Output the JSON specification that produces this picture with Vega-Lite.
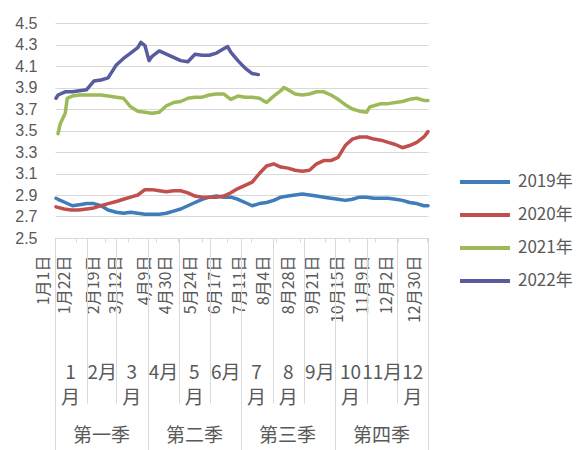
{
  "$schema": "https://vega.github.io/schema/vega-lite/v6.json",
  "width": 373,
  "height": 215,
  "autosize": {"type": "none"},
  "padding": {"left": 55, "top": 23, "right": 155, "bottom": 212},
  "background": "white",
  "config": {"font": "Noto Sans CJK SC", "view": {"stroke": null}},
  "data": {"values": [
    {"date": "2019-01-02", "series": "2019年", "rate": 2.87},
    {"date": "2019-01-04", "series": "2019年", "rate": 2.86},
    {"date": "2019-01-11", "series": "2019年", "rate": 2.83},
    {"date": "2019-01-18", "series": "2019年", "rate": 2.80},
    {"date": "2019-01-25", "series": "2019年", "rate": 2.81},
    {"date": "2019-02-01", "series": "2019年", "rate": 2.82},
    {"date": "2019-02-08", "series": "2019年", "rate": 2.82},
    {"date": "2019-02-15", "series": "2019年", "rate": 2.80},
    {"date": "2019-02-22", "series": "2019年", "rate": 2.76},
    {"date": "2019-03-01", "series": "2019年", "rate": 2.74},
    {"date": "2019-03-08", "series": "2019年", "rate": 2.73},
    {"date": "2019-03-15", "series": "2019年", "rate": 2.74},
    {"date": "2019-03-22", "series": "2019年", "rate": 2.73},
    {"date": "2019-03-29", "series": "2019年", "rate": 2.72},
    {"date": "2019-04-05", "series": "2019年", "rate": 2.72},
    {"date": "2019-04-12", "series": "2019年", "rate": 2.72},
    {"date": "2019-04-19", "series": "2019年", "rate": 2.73},
    {"date": "2019-04-26", "series": "2019年", "rate": 2.75},
    {"date": "2019-05-03", "series": "2019年", "rate": 2.77},
    {"date": "2019-05-10", "series": "2019年", "rate": 2.80},
    {"date": "2019-05-17", "series": "2019年", "rate": 2.83},
    {"date": "2019-05-24", "series": "2019年", "rate": 2.86},
    {"date": "2019-05-31", "series": "2019年", "rate": 2.88},
    {"date": "2019-06-07", "series": "2019年", "rate": 2.89},
    {"date": "2019-06-14", "series": "2019年", "rate": 2.88},
    {"date": "2019-06-21", "series": "2019年", "rate": 2.88},
    {"date": "2019-06-28", "series": "2019年", "rate": 2.86},
    {"date": "2019-07-05", "series": "2019年", "rate": 2.83},
    {"date": "2019-07-12", "series": "2019年", "rate": 2.80},
    {"date": "2019-07-19", "series": "2019年", "rate": 2.82},
    {"date": "2019-07-26", "series": "2019年", "rate": 2.83},
    {"date": "2019-08-02", "series": "2019年", "rate": 2.85},
    {"date": "2019-08-09", "series": "2019年", "rate": 2.88},
    {"date": "2019-08-16", "series": "2019年", "rate": 2.89},
    {"date": "2019-08-23", "series": "2019年", "rate": 2.90},
    {"date": "2019-08-30", "series": "2019年", "rate": 2.91},
    {"date": "2019-09-06", "series": "2019年", "rate": 2.90},
    {"date": "2019-09-13", "series": "2019年", "rate": 2.89},
    {"date": "2019-09-20", "series": "2019年", "rate": 2.88},
    {"date": "2019-09-27", "series": "2019年", "rate": 2.87},
    {"date": "2019-10-04", "series": "2019年", "rate": 2.86},
    {"date": "2019-10-11", "series": "2019年", "rate": 2.85},
    {"date": "2019-10-18", "series": "2019年", "rate": 2.86},
    {"date": "2019-10-25", "series": "2019年", "rate": 2.88},
    {"date": "2019-11-01", "series": "2019年", "rate": 2.88},
    {"date": "2019-11-08", "series": "2019年", "rate": 2.87},
    {"date": "2019-11-15", "series": "2019年", "rate": 2.87},
    {"date": "2019-11-22", "series": "2019年", "rate": 2.87},
    {"date": "2019-11-29", "series": "2019年", "rate": 2.86},
    {"date": "2019-12-06", "series": "2019年", "rate": 2.85},
    {"date": "2019-12-13", "series": "2019年", "rate": 2.83},
    {"date": "2019-12-20", "series": "2019年", "rate": 2.82},
    {"date": "2019-12-27", "series": "2019年", "rate": 2.80},
    {"date": "2019-12-31", "series": "2019年", "rate": 2.80},

    {"date": "2020-01-02", "series": "2020年", "rate": 2.79},
    {"date": "2020-01-10", "series": "2020年", "rate": 2.77},
    {"date": "2020-01-17", "series": "2020年", "rate": 2.76},
    {"date": "2020-01-24", "series": "2020年", "rate": 2.76},
    {"date": "2020-02-01", "series": "2020年", "rate": 2.77},
    {"date": "2020-02-08", "series": "2020年", "rate": 2.78},
    {"date": "2020-02-15", "series": "2020年", "rate": 2.80},
    {"date": "2020-02-22", "series": "2020年", "rate": 2.82},
    {"date": "2020-03-01", "series": "2020年", "rate": 2.84},
    {"date": "2020-03-08", "series": "2020年", "rate": 2.86},
    {"date": "2020-03-15", "series": "2020年", "rate": 2.88},
    {"date": "2020-03-22", "series": "2020年", "rate": 2.90},
    {"date": "2020-03-29", "series": "2020年", "rate": 2.95},
    {"date": "2020-04-05", "series": "2020年", "rate": 2.95},
    {"date": "2020-04-12", "series": "2020年", "rate": 2.94},
    {"date": "2020-04-19", "series": "2020年", "rate": 2.93},
    {"date": "2020-04-26", "series": "2020年", "rate": 2.94},
    {"date": "2020-05-03", "series": "2020年", "rate": 2.94},
    {"date": "2020-05-10", "series": "2020年", "rate": 2.92},
    {"date": "2020-05-17", "series": "2020年", "rate": 2.89},
    {"date": "2020-05-24", "series": "2020年", "rate": 2.88},
    {"date": "2020-05-31", "series": "2020年", "rate": 2.88},
    {"date": "2020-06-07", "series": "2020年", "rate": 2.88},
    {"date": "2020-06-14", "series": "2020年", "rate": 2.89},
    {"date": "2020-06-21", "series": "2020年", "rate": 2.92},
    {"date": "2020-06-28", "series": "2020年", "rate": 2.96},
    {"date": "2020-07-05", "series": "2020年", "rate": 2.99},
    {"date": "2020-07-12", "series": "2020年", "rate": 3.02},
    {"date": "2020-07-19", "series": "2020年", "rate": 3.10},
    {"date": "2020-07-26", "series": "2020年", "rate": 3.17},
    {"date": "2020-08-02", "series": "2020年", "rate": 3.19},
    {"date": "2020-08-09", "series": "2020年", "rate": 3.16},
    {"date": "2020-08-16", "series": "2020年", "rate": 3.15},
    {"date": "2020-08-23", "series": "2020年", "rate": 3.13},
    {"date": "2020-08-30", "series": "2020年", "rate": 3.12},
    {"date": "2020-09-06", "series": "2020年", "rate": 3.13},
    {"date": "2020-09-13", "series": "2020年", "rate": 3.19},
    {"date": "2020-09-20", "series": "2020年", "rate": 3.22},
    {"date": "2020-09-27", "series": "2020年", "rate": 3.22},
    {"date": "2020-10-04", "series": "2020年", "rate": 3.25},
    {"date": "2020-10-11", "series": "2020年", "rate": 3.36},
    {"date": "2020-10-18", "series": "2020年", "rate": 3.42},
    {"date": "2020-10-25", "series": "2020年", "rate": 3.44},
    {"date": "2020-11-01", "series": "2020年", "rate": 3.44},
    {"date": "2020-11-08", "series": "2020年", "rate": 3.42},
    {"date": "2020-11-15", "series": "2020年", "rate": 3.41},
    {"date": "2020-11-22", "series": "2020年", "rate": 3.39},
    {"date": "2020-11-29", "series": "2020年", "rate": 3.37},
    {"date": "2020-12-06", "series": "2020年", "rate": 3.34},
    {"date": "2020-12-13", "series": "2020年", "rate": 3.36},
    {"date": "2020-12-20", "series": "2020年", "rate": 3.39},
    {"date": "2020-12-27", "series": "2020年", "rate": 3.44},
    {"date": "2020-12-31", "series": "2020年", "rate": 3.49},

    {"date": "2021-01-04", "series": "2021年", "rate": 3.47},
    {"date": "2021-01-06", "series": "2021年", "rate": 3.56},
    {"date": "2021-01-08", "series": "2021年", "rate": 3.60},
    {"date": "2021-01-11", "series": "2021年", "rate": 3.66},
    {"date": "2021-01-13", "series": "2021年", "rate": 3.80},
    {"date": "2021-01-18", "series": "2021年", "rate": 3.82},
    {"date": "2021-01-25", "series": "2021年", "rate": 3.83},
    {"date": "2021-02-01", "series": "2021年", "rate": 3.83},
    {"date": "2021-02-08", "series": "2021年", "rate": 3.83},
    {"date": "2021-02-15", "series": "2021年", "rate": 3.83},
    {"date": "2021-02-22", "series": "2021年", "rate": 3.82},
    {"date": "2021-03-01", "series": "2021年", "rate": 3.81},
    {"date": "2021-03-08", "series": "2021年", "rate": 3.80},
    {"date": "2021-03-15", "series": "2021年", "rate": 3.72},
    {"date": "2021-03-22", "series": "2021年", "rate": 3.68},
    {"date": "2021-03-29", "series": "2021年", "rate": 3.67},
    {"date": "2021-04-05", "series": "2021年", "rate": 3.66},
    {"date": "2021-04-12", "series": "2021年", "rate": 3.67},
    {"date": "2021-04-19", "series": "2021年", "rate": 3.73},
    {"date": "2021-04-26", "series": "2021年", "rate": 3.76},
    {"date": "2021-05-03", "series": "2021年", "rate": 3.77},
    {"date": "2021-05-10", "series": "2021年", "rate": 3.80},
    {"date": "2021-05-17", "series": "2021年", "rate": 3.81},
    {"date": "2021-05-24", "series": "2021年", "rate": 3.81},
    {"date": "2021-05-31", "series": "2021年", "rate": 3.83},
    {"date": "2021-06-07", "series": "2021年", "rate": 3.84},
    {"date": "2021-06-14", "series": "2021年", "rate": 3.84},
    {"date": "2021-06-21", "series": "2021年", "rate": 3.79},
    {"date": "2021-06-28", "series": "2021年", "rate": 3.82},
    {"date": "2021-07-05", "series": "2021年", "rate": 3.81},
    {"date": "2021-07-12", "series": "2021年", "rate": 3.81},
    {"date": "2021-07-19", "series": "2021年", "rate": 3.80},
    {"date": "2021-07-26", "series": "2021年", "rate": 3.76},
    {"date": "2021-08-02", "series": "2021年", "rate": 3.82},
    {"date": "2021-08-09", "series": "2021年", "rate": 3.87},
    {"date": "2021-08-12", "series": "2021年", "rate": 3.90},
    {"date": "2021-08-16", "series": "2021年", "rate": 3.88},
    {"date": "2021-08-23", "series": "2021年", "rate": 3.84},
    {"date": "2021-08-30", "series": "2021年", "rate": 3.83},
    {"date": "2021-09-06", "series": "2021年", "rate": 3.84},
    {"date": "2021-09-13", "series": "2021年", "rate": 3.86},
    {"date": "2021-09-20", "series": "2021年", "rate": 3.86},
    {"date": "2021-09-27", "series": "2021年", "rate": 3.83},
    {"date": "2021-10-04", "series": "2021年", "rate": 3.79},
    {"date": "2021-10-11", "series": "2021年", "rate": 3.74},
    {"date": "2021-10-18", "series": "2021年", "rate": 3.70},
    {"date": "2021-10-25", "series": "2021年", "rate": 3.68},
    {"date": "2021-11-01", "series": "2021年", "rate": 3.67},
    {"date": "2021-11-04", "series": "2021年", "rate": 3.72},
    {"date": "2021-11-08", "series": "2021年", "rate": 3.73},
    {"date": "2021-11-15", "series": "2021年", "rate": 3.75},
    {"date": "2021-11-22", "series": "2021年", "rate": 3.75},
    {"date": "2021-11-29", "series": "2021年", "rate": 3.76},
    {"date": "2021-12-06", "series": "2021年", "rate": 3.77},
    {"date": "2021-12-13", "series": "2021年", "rate": 3.79},
    {"date": "2021-12-20", "series": "2021年", "rate": 3.80},
    {"date": "2021-12-27", "series": "2021年", "rate": 3.78},
    {"date": "2021-12-31", "series": "2021年", "rate": 3.78},

    {"date": "2022-01-02", "series": "2022年", "rate": 3.80},
    {"date": "2022-01-04", "series": "2022年", "rate": 3.83},
    {"date": "2022-01-11", "series": "2022年", "rate": 3.86},
    {"date": "2022-01-18", "series": "2022年", "rate": 3.86},
    {"date": "2022-01-25", "series": "2022年", "rate": 3.87},
    {"date": "2022-02-01", "series": "2022年", "rate": 3.88},
    {"date": "2022-02-08", "series": "2022年", "rate": 3.96},
    {"date": "2022-02-15", "series": "2022年", "rate": 3.97},
    {"date": "2022-02-22", "series": "2022年", "rate": 3.99},
    {"date": "2022-03-01", "series": "2022年", "rate": 4.11},
    {"date": "2022-03-08", "series": "2022年", "rate": 4.17},
    {"date": "2022-03-15", "series": "2022年", "rate": 4.22},
    {"date": "2022-03-22", "series": "2022年", "rate": 4.27},
    {"date": "2022-03-25", "series": "2022年", "rate": 4.32},
    {"date": "2022-03-29", "series": "2022年", "rate": 4.29},
    {"date": "2022-04-02", "series": "2022年", "rate": 4.15},
    {"date": "2022-04-05", "series": "2022年", "rate": 4.19},
    {"date": "2022-04-12", "series": "2022年", "rate": 4.24},
    {"date": "2022-04-19", "series": "2022年", "rate": 4.21},
    {"date": "2022-04-26", "series": "2022年", "rate": 4.18},
    {"date": "2022-05-03", "series": "2022年", "rate": 4.15},
    {"date": "2022-05-10", "series": "2022年", "rate": 4.14},
    {"date": "2022-05-17", "series": "2022年", "rate": 4.21},
    {"date": "2022-05-24", "series": "2022年", "rate": 4.20},
    {"date": "2022-05-31", "series": "2022年", "rate": 4.20},
    {"date": "2022-06-07", "series": "2022年", "rate": 4.22},
    {"date": "2022-06-14", "series": "2022年", "rate": 4.26},
    {"date": "2022-06-18", "series": "2022年", "rate": 4.28},
    {"date": "2022-06-21", "series": "2022年", "rate": 4.23},
    {"date": "2022-06-28", "series": "2022年", "rate": 4.15},
    {"date": "2022-07-05", "series": "2022年", "rate": 4.08},
    {"date": "2022-07-12", "series": "2022年", "rate": 4.03},
    {"date": "2022-07-18", "series": "2022年", "rate": 4.02}
  ]},
  "encoding": {
    "y": {
      "field": "rate", "type": "quantitative",
      "scale": {"domain": [2.5, 4.5], "zero": false, "nice": false},
      "axis": {
        "title": null,
        "values": [2.5, 2.7, 2.9, 3.1, 3.3, 3.5, 3.7, 3.9, 4.1, 4.3, 4.5],
        "format": ".1f",
        "ticks": false, "domain": false,
        "gridColor": "#d9d9d9", "gridWidth": 1,
        "labelFont": "Liberation Sans",
        "labelFontSize": 16, "labelColor": "#595959", "labelPadding": 18
      }
    },
    "color": {
      "field": "series", "type": "nominal",
      "scale": {"domain": ["2019年", "2020年", "2021年", "2022年"], "range": ["#3f7cb9", "#c0504d", "#9bbb59", "#585c9e"]},
      "legend": {
        "title": null, "orient": "none", "legendX": 403, "legendY": 149,
        "symbolType": "stroke", "symbolSize": 2500, "symbolStrokeWidth": 4,
        "clipHeight": 20, "rowPadding": 13,
        "labelFontSize": 17, "labelColor": "#595959", "labelOffset": 6
      }
    }
  },
  "layer": [
    {
      "transform": [{"filter": "datum.series == '2019年'"}],
      "mark": {"type": "line", "strokeWidth": 3.5, "strokeJoin": "round", "strokeCap": "round"},
      "encoding": {
        "x": {
          "field": "date", "timeUnit": "utcmonthdate", "type": "temporal",
          "scale": {"domain": [{"year": 2012, "month": 1, "date": 1, "utc": true}, {"year": 2012, "month": 12, "date": 31, "utc": true}], "nice": false},
          "axis": {
            "title": null, "orient": "bottom",
            "values": [
              {"year": 2012, "month": 1, "date": 1, "utc": true},
              {"year": 2012, "month": 1, "date": 22, "utc": true},
              {"year": 2012, "month": 2, "date": 19, "utc": true},
              {"year": 2012, "month": 3, "date": 12, "utc": true},
              {"year": 2012, "month": 4, "date": 9, "utc": true},
              {"year": 2012, "month": 4, "date": 30, "utc": true},
              {"year": 2012, "month": 5, "date": 24, "utc": true},
              {"year": 2012, "month": 6, "date": 17, "utc": true},
              {"year": 2012, "month": 7, "date": 11, "utc": true},
              {"year": 2012, "month": 8, "date": 4, "utc": true},
              {"year": 2012, "month": 8, "date": 28, "utc": true},
              {"year": 2012, "month": 9, "date": 21, "utc": true},
              {"year": 2012, "month": 10, "date": 15, "utc": true},
              {"year": 2012, "month": 11, "date": 9, "utc": true},
              {"year": 2012, "month": 12, "date": 2, "utc": true},
              {"year": 2012, "month": 12, "date": 30, "utc": true}
            ],
            "labelExpr": "utcFormat(datum.value, '%-m月%-d日')",
            "labelAngle": 270, "labelAlign": "right", "labelBaseline": "middle",
            "labelFontSize": 16, "labelColor": "#595959",
            "labelPadding": 13, "labelOffset": -12,
            "labelOverlap": false, "labelFlush": false, "labelBound": false,
            "ticks": true, "tickSize": 4, "tickColor": "#d9d9d9",
            "domain": true, "domainColor": "#d9d9d9", "grid": false
          }
        }
      }
    },
    {
      "transform": [{"filter": "datum.series == '2020年'"}],
      "mark": {"type": "line", "strokeWidth": 3.5, "strokeJoin": "round", "strokeCap": "round"},
      "encoding": {
        "x": {
          "field": "date", "timeUnit": "utcmonthdate", "type": "temporal",
          "axis": {
            "title": null, "orient": "bottom",
            "values": [
              {"year": 2012, "month": 1, "date": 1, "utc": true},
              {"year": 2012, "month": 2, "date": 1, "utc": true},
              {"year": 2012, "month": 3, "date": 1, "utc": true},
              {"year": 2012, "month": 4, "date": 1, "utc": true},
              {"year": 2012, "month": 5, "date": 1, "utc": true},
              {"year": 2012, "month": 6, "date": 1, "utc": true},
              {"year": 2012, "month": 7, "date": 1, "utc": true},
              {"year": 2012, "month": 8, "date": 1, "utc": true},
              {"year": 2012, "month": 9, "date": 1, "utc": true},
              {"year": 2012, "month": 10, "date": 1, "utc": true},
              {"year": 2012, "month": 11, "date": 1, "utc": true},
              {"year": 2012, "month": 12, "date": 1, "utc": true}
            ],
            "labelExpr": "[['1','月'],['2月'],['3','月'],['4月'],['5','月'],['6月'],['7','月'],['8','月'],['9月'],['10','月'],['11月'],['12','月']][utcmonth(datum.value)]",
            "labelAngle": 0, "labelAlign": "center", "labelBaseline": "top",
            "labelFontSize": 19, "labelLineHeight": 25, "labelColor": "#595959",
            "labelPadding": -40, "labelOffset": 15,
            "labelOverlap": false, "labelFlush": false, "labelBound": false,
            "ticks": true, "tickSize": 165, "tickColor": "#d9d9d9", "tickWidth": 1,
            "domain": false, "grid": false
          }
        }
      }
    },
    {
      "transform": [{"filter": "datum.series == '2021年'"}],
      "mark": {"type": "line", "strokeWidth": 3.5, "strokeJoin": "round", "strokeCap": "round"},
      "encoding": {
        "x": {
          "field": "date", "timeUnit": "utcmonthdate", "type": "temporal",
          "axis": {
            "title": null, "orient": "bottom",
            "values": [
              {"year": 2012, "month": 1, "date": 1, "utc": true},
              {"year": 2012, "month": 4, "date": 1, "utc": true},
              {"year": 2012, "month": 7, "date": 1, "utc": true},
              {"year": 2012, "month": 10, "date": 1, "utc": true},
              {"year": 2012, "month": 12, "date": 31, "utc": true}
            ],
            "labelExpr": "utcmonth(datum.value) == 11 ? '' : ['第一季','','','第二季','','','第三季','','','第四季'][utcmonth(datum.value)]",
            "labelAngle": 0, "labelAlign": "center", "labelBaseline": "top",
            "labelFontSize": 19, "labelColor": "#595959",
            "labelPadding": -24, "labelOffset": 46,
            "labelOverlap": false, "labelFlush": false, "labelBound": false,
            "ticks": true, "tickSize": 212, "tickColor": "#d9d9d9", "tickWidth": 1,
            "domain": false, "grid": false
          }
        }
      }
    },
    {
      "transform": [{"filter": "datum.series == '2022年'"}],
      "mark": {"type": "line", "strokeWidth": 3.5, "strokeJoin": "round", "strokeCap": "round"},
      "encoding": {
        "x": {
          "field": "date", "timeUnit": "utcmonthdate", "type": "temporal",
          "axis": null
        }
      }
    }
  ],
  "resolve": {"axis": {"x": "independent"}}
}
